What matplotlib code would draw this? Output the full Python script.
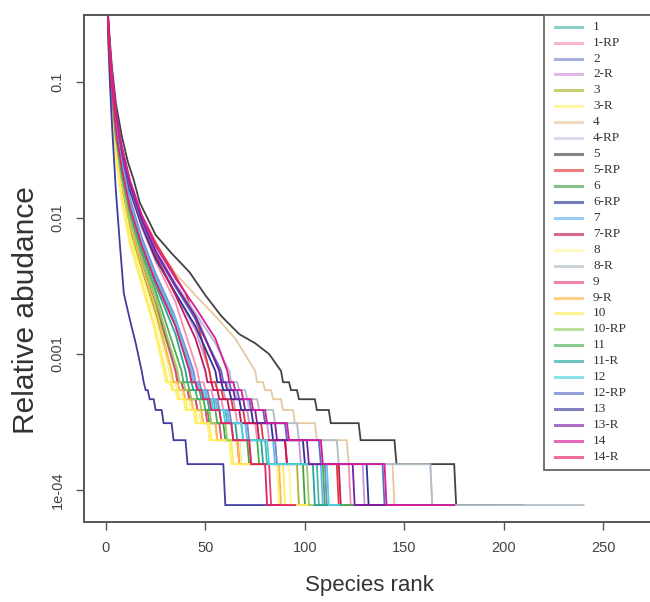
import matplotlib
matplotlib.use("Agg")
import matplotlib.pyplot as plt
from matplotlib.lines import Line2D
from matplotlib.patches import Rectangle

plt.rcParams["font.family"] = ["Liberation Sans", "DejaVu Sans"]

# Total reads per sample: one read is the smallest relative abundance
TOTAL_READS = 12900

labels = ["1", "1-RP", "2", "2-R", "3", "3-R", "4", "4-RP", "5", "5-RP",
          "6", "6-RP", "7", "7-RP", "8", "8-R", "9", "9-R", "10", "10-RP",
          "11", "11-R", "12", "12-RP", "13", "13-R", "14", "14-R"]

line_colors = ["#4db6ac", "#f48fb1", "#7986cb", "#ce93d8", "#afb42b", "#fff176",
               "#e6c9a0", "#d1c4e9", "#424242", "#e53935", "#43a047", "#283593",
               "#64b5f6", "#c2185b", "#fff59d", "#b0bec5", "#ec407a", "#ffb74d",
               "#ffee58", "#9ccc65", "#4caf50", "#26a69a", "#4dd0e1", "#5c6bc0",
               "#3f3d9e", "#7b1fa2", "#d81b9a", "#e91e63"]

# Dominant part of each curve: rank and relative abundance
head_ranks = [
    [1, 2, 3, 5, 8, 12, 18, 25, 34, 42],
    [1, 2, 3, 5, 8, 12, 18, 25, 35, 46],
    [1, 2, 3, 5, 8, 12, 18, 25, 34, 44],
    [1, 2, 3, 5, 8, 12, 18, 25, 35, 45, 52],
    [1, 2, 3, 5, 8, 12, 18, 25, 32],
    [1, 2, 3, 5, 8, 12, 18, 24, 29],
    [1, 2, 3, 5, 8, 12, 18, 25, 35, 45, 55, 65, 75],
    [1, 2, 3, 5, 8, 12, 18, 25, 35, 47, 57],
    [1, 2, 3, 5, 8, 11, 14, 17, 25, 33, 42, 50, 58, 67, 75, 82, 88],
    [1, 2, 3, 5, 8, 12, 18, 25, 33, 40, 47, 52],
    [1, 2, 3, 5, 8, 12, 18, 25, 35],
    [1, 2, 3, 5, 8, 12, 18, 25, 35, 45, 55],
    [1, 2, 3, 5, 8, 12, 18, 25, 35, 43],
    [1, 2, 3, 5, 8, 12, 18, 25, 35, 45, 50],
    [1, 2, 3, 5, 8, 12, 18, 25, 32],
    [1, 2, 3, 5, 8, 12, 18, 25, 35, 45, 55, 62],
    [1, 2, 3, 5, 8, 12, 18, 25, 35],
    [1, 2, 3, 5, 8, 12, 18, 25, 33],
    [1, 2, 3, 5, 8, 12, 18, 25, 30],
    [1, 2, 3, 5, 8, 12, 18, 25, 36],
    [1, 2, 3, 5, 8, 12, 18, 25, 38],
    [1, 2, 3, 5, 8, 12, 18, 25, 35, 40],
    [1, 2, 3, 5, 8, 12, 18, 25, 35, 42],
    [1, 2, 3, 5, 8, 12, 18, 25, 35, 45, 58],
    [1, 2, 3, 5, 7, 9, 12, 15, 18],
    [1, 2, 3, 5, 8, 12, 18, 25, 35, 45, 57],
    [1, 2, 3, 5, 8, 12, 18, 25, 35, 45, 55, 61],
    [1, 2, 3, 5, 8, 12, 18, 25, 35, 42],
]

head_abund = [
    [0.27, 0.15, 0.09, 0.048, 0.025, 0.013, 0.0068, 0.0036, 0.0018, 0.00075],
    [0.29, 0.17, 0.11, 0.056, 0.030, 0.016, 0.0085, 0.0048, 0.0024, 0.00075],
    [0.28, 0.16, 0.10, 0.050, 0.026, 0.014, 0.0072, 0.0039, 0.0020, 0.00075],
    [0.30, 0.17, 0.11, 0.058, 0.031, 0.017, 0.0090, 0.0052, 0.0028, 0.0015, 0.00075],
    [0.24, 0.12, 0.07, 0.034, 0.016, 0.0082, 0.0042, 0.0020, 0.00075],
    [0.22, 0.11, 0.062, 0.028, 0.013, 0.0065, 0.0032, 0.0016, 0.00075],
    [0.30, 0.18, 0.11, 0.058, 0.032, 0.018, 0.010, 0.0063, 0.0039, 0.0027, 0.0019, 0.0013, 0.00075],
    [0.30, 0.17, 0.11, 0.058, 0.031, 0.017, 0.0095, 0.0056, 0.0032, 0.0017, 0.00075],
    [0.33, 0.20, 0.13, 0.07, 0.04, 0.026, 0.019, 0.013, 0.0075, 0.0055, 0.004, 0.0027, 0.0019, 0.0014, 0.0012, 0.001, 0.00075],
    [0.30, 0.18, 0.12, 0.062, 0.034, 0.019, 0.0105, 0.0066, 0.0042, 0.0028, 0.0015, 0.00075],
    [0.25, 0.13, 0.075, 0.037, 0.018, 0.0093, 0.0046, 0.0023, 0.00075],
    [0.29, 0.17, 0.11, 0.056, 0.030, 0.016, 0.0088, 0.0050, 0.0028, 0.0016, 0.00075],
    [0.27, 0.15, 0.095, 0.048, 0.025, 0.013, 0.0068, 0.0037, 0.0018, 0.00075],
    [0.30, 0.17, 0.11, 0.058, 0.031, 0.017, 0.0092, 0.0053, 0.0027, 0.0013, 0.00075],
    [0.23, 0.115, 0.066, 0.031, 0.015, 0.0076, 0.0038, 0.0018, 0.00075],
    [0.30, 0.18, 0.11, 0.058, 0.032, 0.018, 0.0098, 0.0058, 0.0033, 0.0020, 0.0012, 0.00075],
    [0.26, 0.14, 0.08, 0.040, 0.020, 0.010, 0.0051, 0.0026, 0.00075],
    [0.25, 0.13, 0.075, 0.036, 0.018, 0.0092, 0.0045, 0.0022, 0.00075],
    [0.23, 0.11, 0.064, 0.030, 0.014, 0.0070, 0.0034, 0.0015, 0.00075],
    [0.25, 0.13, 0.078, 0.038, 0.019, 0.0098, 0.0050, 0.0026, 0.00075],
    [0.26, 0.14, 0.082, 0.040, 0.021, 0.011, 0.0056, 0.0029, 0.00075],
    [0.27, 0.15, 0.088, 0.043, 0.022, 0.0115, 0.0060, 0.0032, 0.0014, 0.00075],
    [0.27, 0.15, 0.09, 0.045, 0.023, 0.012, 0.0063, 0.0034, 0.0016, 0.00075],
    [0.30, 0.17, 0.11, 0.058, 0.031, 0.017, 0.0093, 0.0055, 0.0031, 0.0018, 0.00075],
    [0.25, 0.10, 0.05, 0.016, 0.0065, 0.0028, 0.0018, 0.0012, 0.00075],
    [0.31, 0.18, 0.115, 0.060, 0.032, 0.018, 0.0098, 0.0057, 0.0032, 0.0019, 0.00075],
    [0.31, 0.18, 0.115, 0.060, 0.033, 0.019, 0.0105, 0.0062, 0.0036, 0.0022, 0.0013, 0.00075],
    [0.28, 0.15, 0.092, 0.045, 0.023, 0.012, 0.0063, 0.0034, 0.0016, 0.00075],
]

# Rare tail: last rank holding 8, 7, 6, 5, 4, 3, 2 and 1 reads
tail_last_rank = [
    [45, 49, 54, 60, 68, 80, 106, 125],
    [49, 53, 58, 65, 75, 90, 122, 148],
    [47, 51, 56, 62, 71, 85, 110, 130],
    [55, 59, 64, 71, 81, 97, 129, 150],
    [35, 38, 42, 47, 55, 67, 96, 110],
    [32, 35, 39, 44, 51, 62, 86, 100],
    [79, 83, 88, 94, 105, 121, 144, 165],
    [61, 65, 71, 79, 90, 108, 163, 195],
    [92, 96, 105, 112, 127, 145, 175, 210],
    [55, 58, 63, 69, 78, 90, 116, 140],
    [38, 41, 45, 51, 59, 71, 99, 117],
    [58, 62, 67, 73, 83, 99, 131, 165],
    [46, 50, 55, 61, 70, 84, 108, 130],
    [53, 56, 61, 67, 76, 90, 117, 138],
    [35, 38, 42, 47, 55, 67, 92, 110],
    [66, 70, 76, 84, 96, 116, 163, 240],
    [38, 41, 45, 50, 57, 66, 82, 100],
    [36, 39, 43, 48, 55, 66, 87, 104],
    [33, 36, 40, 45, 52, 63, 89, 106],
    [39, 42, 47, 52, 60, 72, 101, 120],
    [41, 45, 49, 55, 63, 76, 109, 125],
    [43, 47, 51, 57, 65, 78, 104, 118],
    [45, 49, 53, 59, 68, 81, 111, 117],
    [62, 66, 72, 79, 90, 107, 139, 175],
    [19, 21, 24, 28, 33, 40, 59, 86],
    [60, 64, 69, 75, 85, 101, 124, 150],
    [64, 68, 73, 80, 91, 108, 140, 175],
    [45, 48, 52, 57, 63, 72, 80, 95],
]

TAIL_COUNTS = [8, 7, 6, 5, 4, 3, 2, 1]

fig = plt.figure(figsize=(6.5, 6.02), dpi=100)
W, H = 650.0, 602.0
ax = fig.add_axes([84 / W, 1 - 522 / H, 570 / W, 507.5 / H])

for hr, ha, tl, col in zip(head_ranks, head_abund, tail_last_rank, line_colors):
    xs = list(hr)
    ys = list(ha)
    start = hr[-1] + 1
    for cnt, last in zip(TAIL_COUNTS, tl):
        xs += [start, last]
        ys += [cnt / TOTAL_READS, cnt / TOTAL_READS]
        start = last + 1
    ax.plot(xs, ys, color=col, lw=1.3, solid_joinstyle="miter")

ax.set_yscale("log")
ax.set_xlim(-11, 275.4)
ax.set_ylim(5.82e-5, 0.3134)
ax.set_xticks([0, 50, 100, 150, 200, 250])
ax.set_yticks([0.1, 0.01, 0.001, 1e-4])
ax.set_yticklabels(["0.1", "0.01", "0.001", "1e-04"], rotation=90, va="center")
ax.minorticks_off()
ax.tick_params(axis="both", direction="out", length=6, width=1.0,
               color="#555555", labelcolor="#444444", labelsize=10.5, pad=8)
for side in ["left", "bottom", "top", "right"]:
    ax.spines[side].set_color("#555555")
    ax.spines[side].set_linewidth(1.4)

ax.set_xlabel("Species rank", fontsize=16, color="#333333", labelpad=14)
fig.text(26 / W, 1 - 310 / H, "Relative abudance", fontsize=21.5, color="#333333",
         rotation=90, ha="center", va="center")

# Legend box in the upper right corner
fig.add_artist(Rectangle((544 / W, 1 - 470 / H), 120 / W, (470 - 14.5) / H,
                         transform=fig.transFigure, facecolor="white",
                         edgecolor="#666666", lw=1.3, zorder=5))
for i, (lab, col) in enumerate(zip(labels, line_colors)):
    y = 1 - (26.7 + i * 15.93) / H
    fig.add_artist(Line2D([555 / W, 582 / W], [y, y], transform=fig.transFigure,
                          color=col, lw=2.2, alpha=0.65, zorder=6))
    fig.text(593 / W, y, lab, fontsize=9.5, family=["Liberation Serif", "DejaVu Serif"],
             color="#333333", va="center", ha="left", zorder=6)

fig.savefig("out.png", dpi=100)
